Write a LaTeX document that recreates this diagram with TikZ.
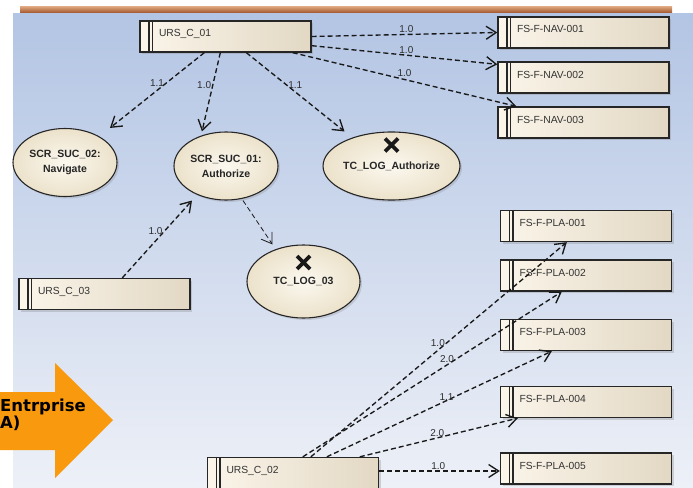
\documentclass[tikz,border=0pt]{standalone}
\usepackage{fontspec}
\setmainfont{Liberation Sans}
\newfontfamily\entfont{DejaVu Sans}
\usepackage{xcolor}
\usetikzlibrary{arrows.meta,shapes.geometric,shadows}
\definecolor{bgtop}{HTML}{B3C5E4}
\definecolor{bgbot}{HTML}{EDF0F7}
\definecolor{boxl}{HTML}{FBF5EA}
\definecolor{boxr}{HTML}{E2D8C4}
\definecolor{ucin}{HTML}{FBF8EF}
\definecolor{ucout}{HTML}{ECE2CB}
\definecolor{bartop}{HTML}{D9A077}
\definecolor{barbot}{HTML}{A0532A}
\definecolor{entorange}{HTML}{F99A0E}
\definecolor{lbltext}{HTML}{2E2E2E}

\begin{document}
\begin{tikzpicture}[x=1pt,y=-1pt,
        boxnode/.style={rectangle, draw=black!85, line width=1.35pt, left color=boxl, right color=boxr,
            text width=133pt, inner xsep=19pt, inner ysep=4.5pt, text height=11.5pt, text depth=10.5pt,
            align=left, font=\fontsize{10.3}{12}\selectfont, text=black!80,
            drop shadow={shadow xshift=2pt, shadow yshift=-2pt, opacity=.3},
            path picture={
                \draw[black!85, line width=1.2pt] ([xshift=9pt]path picture bounding box.north west) -- ([xshift=9pt]path picture bounding box.south west);
                \draw[black!85, line width=1.2pt] ([xshift=12.5pt]path picture bounding box.north west) -- ([xshift=12.5pt]path picture bounding box.south west);}},
        ucnode/.style={ellipse, draw=black!85, line width=1.1pt, inner sep=0pt, shading=radial, inner color=ucin, outer color=ucout,
            minimum width=104pt, minimum height=68pt, align=center, text=black!85,
            font=\bfseries\fontsize{10.5}{15}\selectfont,
            drop shadow={shadow xshift=2pt, shadow yshift=-2pt, opacity=.25}},
        lbl/.style={font=\fontsize{10}{11}\selectfont, text=lbltext, inner sep=1pt},
        xmark/.style={line width=3.6pt, black!90}
        ]
            \useasboundingbox (0,0) rectangle (693,487);
            \fill[top color=bgtop, bottom color=bgbot] (13,14) rectangle (693,487);
            \fill[top color=bartop, bottom color=barbot] (20,7) rectangle (672,13);

            \fill[entorange] (-5,392) -- (55,392) -- (55,363) -- (113,420) -- (55,478) -- (55,450) -- (-5,450) -- cycle;
            \node[anchor=base west, inner sep=0pt, font=\entfont\bfseries\fontsize{16.5}{18}\selectfont] (ent1) at (0,411) {Entrprise};
            \node[anchor=base west, inner sep=0pt, font=\entfont\bfseries\fontsize{16.5}{18}\selectfont] (ent2) at (0,428) {A)};

            \node[boxnode] (u1) at (225.5,36.5) {URS\_C\_01};
            \node[boxnode] (u3) at (104.5,294) {URS\_C\_03};
            \node[boxnode] (u2) at (293,473) {URS\_C\_02};
            \node[boxnode] (n1) at (583.5,32.5) {FS-F-NAV-001};
            \node[boxnode] (n2) at (583.5,77.5) {FS-F-NAV-002};
            \node[boxnode] (n3) at (583.5,122.5) {FS-F-NAV-003};
            \node[boxnode] (p1) at (586,226) {FS-F-PLA-001};
            \node[boxnode] (p2) at (586,275.5) {FS-F-PLA-002};
            \node[boxnode] (p3) at (586,335) {FS-F-PLA-003};
            \node[boxnode] (p4) at (586,402) {FS-F-PLA-004};
            \node[boxnode] (p5) at (586,468.5) {FS-F-PLA-005};

            \node[ucnode] (s2) at (65,162.5) {SCR\_SUC\_02:\\Navigate};
            \node[ucnode] (s1) at (226,166) {SCR\_SUC\_01:\\Authorize};
            \node[ucnode, minimum width=107pt] (ta) at (391.5,166) {TC\_LOG\_Authorize};
            \node[ucnode, minimum width=113pt, minimum height=73pt] (t3) at (303.5,281.5) {TC\_LOG\_03};

            \draw[xmark] ([yshift=21pt]ta.center) +(-6.5,-6.5) -- +(6.5,6.5) +(-6.5,6.5) -- +(6.5,-6.5);
            \draw[xmark] ([yshift=19pt]t3.center) +(-6.5,-6.5) -- +(6.5,6.5) +(-6.5,6.5) -- +(6.5,-6.5);

            \tikzset{dep/.style={-{Straight Barb[length=10pt,width=13pt]}, draw=black!90, line width=1.35pt, dash pattern=on 5pt off 3pt}}
            \tikzset{thindep/.style={dep, line width=.8pt}}

            \draw[dep] (u1.east) -- node[lbl, pos=.51, above] {1.0} (n1.west);
            \draw[dep] ([yshift=7pt]u1.south east) -- node[lbl, pos=.51, above] {1.0} ([yshift=-3pt]n2.north west);
            \draw[dep] ([xshift=-19pt]u1.south east) -- node[lbl, pos=.5, above=1pt] {1.0} ([xshift=19pt]n3.north west);
            \draw[dep] ([xshift=65pt]u1.south west) -- node[lbl, pos=.41, anchor=east] {1.1} ([xshift=45pt]s2.north);
            \draw[dep] ([xshift=81pt]u1.south west) -- node[lbl, pos=.41, anchor=east] {1.0} ([xshift=-24pt]s1.north);
            \draw[dep] ([xshift=107pt]u1.south west) -- node[lbl, pos=.41, anchor=west] {1.1} ([xshift=-47pt]ta.north);
            \draw[dep] ([xshift=104pt]u3.north west) -- node[lbl, pos=.6, anchor=east] {1.0} ([xshift=-34pt]s1.south);
            \draw[thindep] ([xshift=17pt]s1.south) -- ([xshift=-31pt]t3.north);

            \draw[dep] ([xshift=104pt]u2.north west) -- node[lbl, pos=.53, anchor=east] {1.0} ([xshift=67pt]p1.south west);
            \draw[dep] ([xshift=96pt]u2.north west) -- node[lbl, pos=.59, anchor=east] {2.0} ([xshift=62pt]p2.south west);
            \draw[dep] ([xshift=120pt]u2.north west) -- node[lbl, pos=.57, anchor=east] {1.1} ([xshift=52pt]p3.south west);
            \draw[dep] ([xshift=153pt]u2.north west) -- node[lbl, pos=.49, above] {2.0} ([xshift=18pt]p4.south west);
            \draw[dep] ([yshift=2pt]u2.east) -- node[lbl, pos=.49, above] {1.0} ([yshift=-2.5pt]p5.west);

        \end{tikzpicture}
\end{document}
